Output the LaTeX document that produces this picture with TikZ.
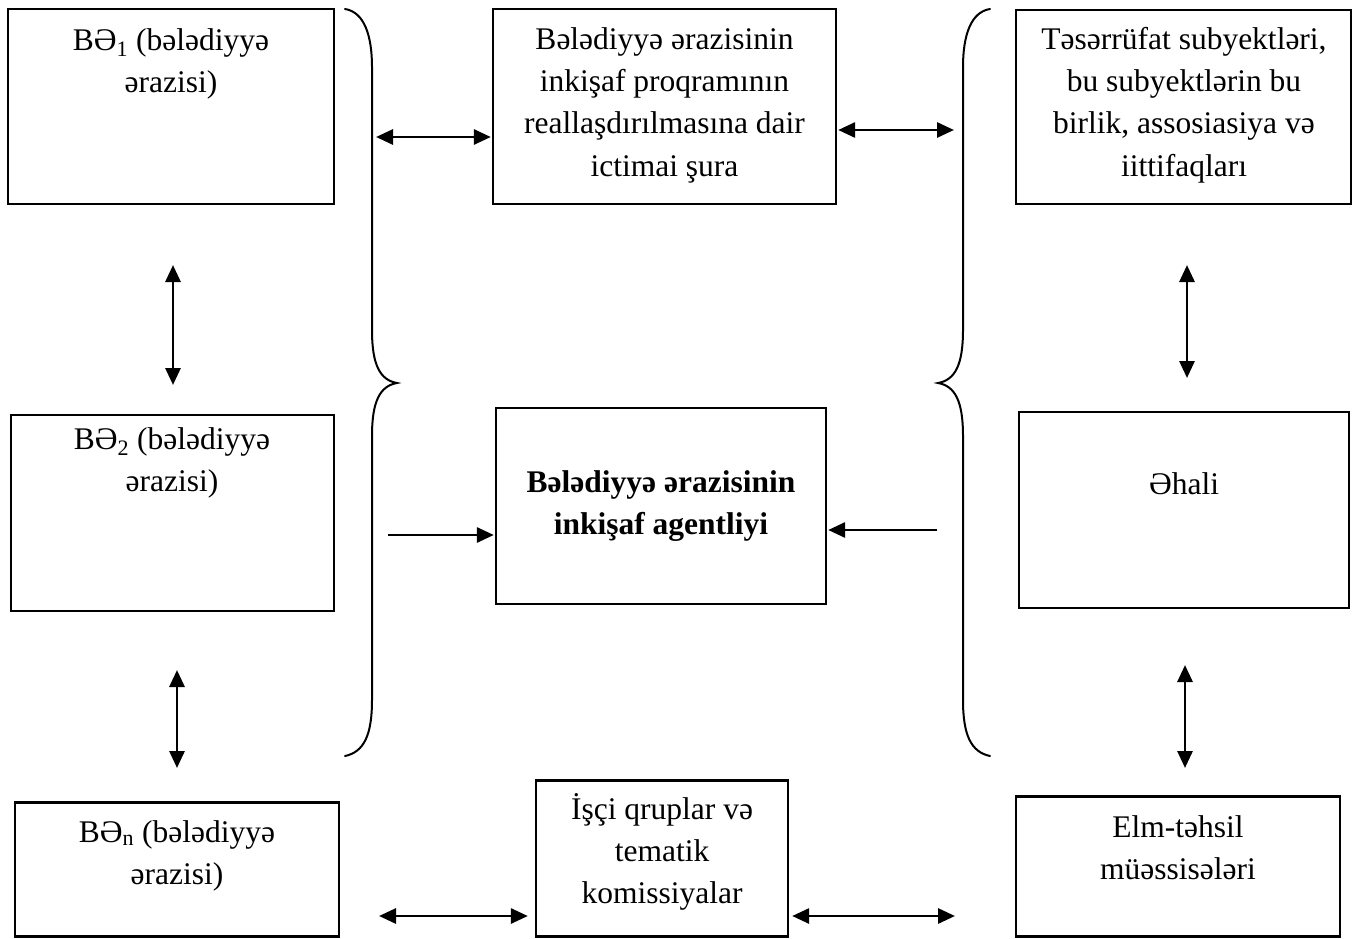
\documentclass[tikz,border=0pt]{standalone}
\usepackage{fontspec}
\setmainfont{Liberation Serif}
\usetikzlibrary{arrows.meta}
\begin{document}
\begin{tikzpicture}[x=1pt,y=-1pt,
  >={Triangle[length=17pt,width=15pt]},
  box/.style={draw, line width=2.3pt, inner sep=0pt},
  txt/.style={anchor=north, align=center, inner sep=0pt,
              font=\fontsize{31.5}{42.3}\selectfont},
  boldtxt/.style={txt, font=\fontsize{31.5}{42.3}\selectfont\bfseries},
  link/.style={line width=2.9pt, <->},
  feed/.style={line width=2.9pt, ->},
  brace/.style={line width=2pt, line cap=round}]
\useasboundingbox (0,0) rectangle (1360,939);

% ---- boxes ----
\node[box, minimum width=326pt, minimum height=195pt] (b1)  at (171,106.5) {};
\node[box, minimum width=343pt, minimum height=195pt] (cou) at (664.5,106.5) {};
\node[box, minimum width=335pt, minimum height=194pt] (tes) at (1183.5,107) {};
\node[box, minimum width=323pt, minimum height=196pt] (b2)  at (172.5,513) {};
\node[box, minimum width=330pt, minimum height=196pt] (agy) at (661,506) {};
\node[box, minimum width=330pt, minimum height=196pt] (ehl) at (1184,510) {};
\node[box, minimum width=324pt, minimum height=134pt] (bn)  at (177,869.5) {};
\node[box, minimum width=252pt, minimum height=156pt] (grp) at (662,858.5) {};
\node[box, minimum width=324pt, minimum height=140pt] (elm) at (1178,866.5) {};

% ---- texts ----
\node[txt] (tb1) at (171,20.4) {\strut BƏ\textsubscript{1} (bələdiyyə\\ərazisi)};
\node[txt] (tcou) at (664.5,19.4) {\strut Bələdiyyə ərazisinin\\inkişaf proqramının\\reallaşdırılmasına dair\\ictimai şura};
\node[txt] (ttes) at (1184,19.4) {\strut Təsərrüfat subyektləri,\\bu subyektlərin bu\\birlik, assosiasiya və\\iittifaqları};
\node[txt] (tb2) at (172,419.4) {\strut BƏ\textsubscript{2} (bələdiyyə\\ərazisi)};
\node[boldtxt] (tagy) at (661,462.4) {\strut Bələdiyyə ərazisinin\\inkişaf agentliyi};
\node[txt] (tehl) at (1184,464.4) {\strut Əhali};
\node[txt] (tbn) at (177,812.4) {\strut BƏ\textsubscript{n} (bələdiyyə\\ərazisi)};
\node[txt] (tgrp) at (662,789.4) {\strut İşçi qruplar və\\tematik\\komissiyalar};
\node[txt] (telm) at (1178,807.4) {\strut Elm-təhsil\\müəssisələri};

% ---- braces ----
\draw[brace] (345,9) .. controls (364,12) and (372,35) .. (372,67)
  -- (372,330) .. controls (372,365) and (380,380) .. (397,383)
  .. controls (380,386) and (372,401) .. (372,436)
  -- (372,700) .. controls (372,735) and (364,752) .. (345,756);
\draw[brace] (990,9) .. controls (971,12) and (963,35) .. (963,67)
  -- (963,330) .. controls (963,365) and (955,380) .. (938,383)
  .. controls (955,386) and (963,401) .. (963,436)
  -- (963,700) .. controls (963,735) and (971,752) .. (990,756);

% ---- free ends of connectors ----
\coordinate (l1) at (376,137);
\coordinate (r1) at (954,130);
\coordinate (l2) at (388,535);
\coordinate (r2) at (937,530);
\coordinate (l3) at (379,916);
\coordinate (r3) at (955,916);
\coordinate (va1) at (173,265); \coordinate (vb1) at (173,385);
\coordinate (va2) at (177,670); \coordinate (vb2) at (177,768);
\coordinate (va3) at (1187,265); \coordinate (vb3) at (1187,378);
\coordinate (va4) at (1185,665); \coordinate (vb4) at (1185,768);

% ---- connectors ----
\draw[link] (l1) -- ([xshift=-1pt]l1 -| cou.west);
\draw[link] ([xshift=1pt]r1 -| cou.east) -- (r1);
\draw[feed] (l2) -- ([xshift=-1pt]l2 -| agy.west);
\draw[feed] (r2) -- ([xshift=1pt]r2 -| agy.east);
\draw[link] (l3) -- ([xshift=-7pt]l3 -| grp.west);
\draw[link] ([xshift=3pt]r3 -| grp.east) -- (r3);
\draw[link] (va1) -- (vb1);
\draw[link] (va2) -- (vb2);
\draw[link] (va3) -- (vb3);
\draw[link] (va4) -- (vb4);
\end{tikzpicture}
\end{document}
